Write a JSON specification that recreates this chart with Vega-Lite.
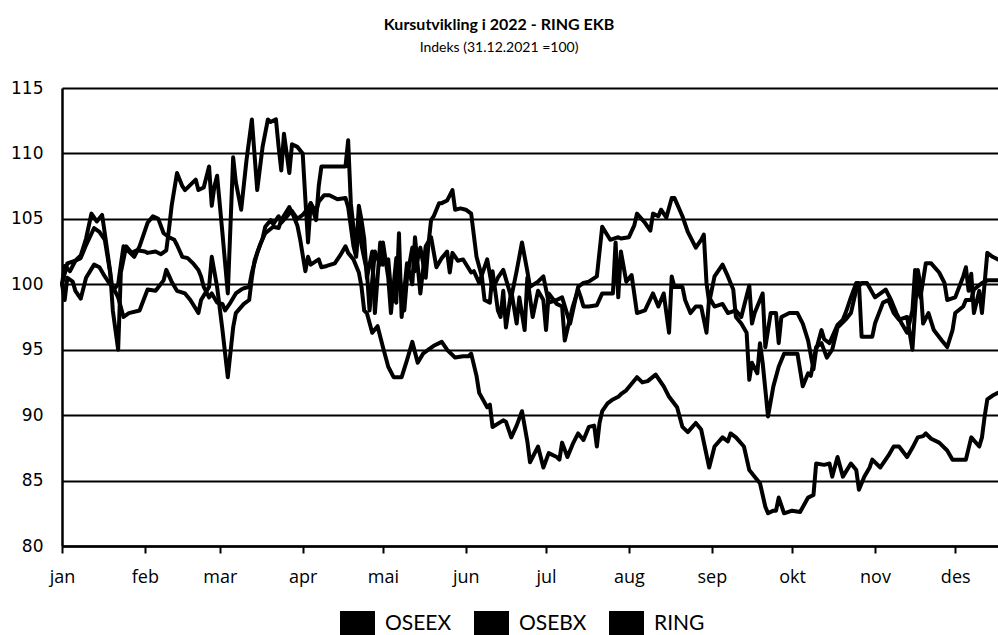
{
"$schema":"https://vega.github.io/schema/vega-lite/v6.json",
"width":936,"height":458,
"autosize":{"type":"none"},
"padding":{"left":62,"top":88,"right":0,"bottom":89},
"background":"white",
"title":{"text":"Kursutvikling i 2022 - RING EKB","subtitle":"Indeks (31.12.2021 =100)","anchor":"middle","dx":-31,"offset":24,"font":"Lato","fontSize":16,"fontWeight":"bold","color":"black","subtitleFont":"Lato","subtitleFontSize":14,"subtitleColor":"black","subtitlePadding":8},
"config":{"view":{"stroke":null}},
"data":{"values":[
{"s":"OSEEX","t":"2022-01-01","v":100},{"s":"OSEEX","t":"2022-01-02","v":101.4},{"s":"OSEEX","t":"2022-01-04","v":101.0},{"s":"OSEEX","t":"2022-01-06","v":101.8},{"s":"OSEEX","t":"2022-01-08","v":102.0},{"s":"OSEEX","t":"2022-01-10","v":103.0},{"s":"OSEEX","t":"2022-01-13","v":104.3},{"s":"OSEEX","t":"2022-01-15","v":104.0},{"s":"OSEEX","t":"2022-01-17","v":103.4},{"s":"OSEEX","t":"2022-01-19","v":100.9},{"s":"OSEEX","t":"2022-01-20","v":99.5},{"s":"OSEEX","t":"2022-01-22","v":100.0},{"s":"OSEEX","t":"2022-01-23","v":101.5},{"s":"OSEEX","t":"2022-01-24","v":102.9},{"s":"OSEEX","t":"2022-01-26","v":102.5},{"s":"OSEEX","t":"2022-01-28","v":102.1},{"s":"OSEEX","t":"2022-01-30","v":102.9},{"s":"OSEEX","t":"2022-02-02","v":104.7},{"s":"OSEEX","t":"2022-02-04","v":105.2},{"s":"OSEEX","t":"2022-02-06","v":105.0},{"s":"OSEEX","t":"2022-02-08","v":103.9},{"s":"OSEEX","t":"2022-02-10","v":103.6},{"s":"OSEEX","t":"2022-02-12","v":103.4},{"s":"OSEEX","t":"2022-02-13","v":103.0},{"s":"OSEEX","t":"2022-02-15","v":102.1},{"s":"OSEEX","t":"2022-02-17","v":102.0},{"s":"OSEEX","t":"2022-02-19","v":101.6},{"s":"OSEEX","t":"2022-02-21","v":101.1},{"s":"OSEEX","t":"2022-02-22","v":100.6},{"s":"OSEEX","t":"2022-02-23","v":99.8},{"s":"OSEEX","t":"2022-02-25","v":99.0},{"s":"OSEEX","t":"2022-02-26","v":99.3},{"s":"OSEEX","t":"2022-02-28","v":98.6},{"s":"OSEEX","t":"2022-03-02","v":98.5},{"s":"OSEEX","t":"2022-03-03","v":98.0},{"s":"OSEEX","t":"2022-03-05","v":98.6},{"s":"OSEEX","t":"2022-03-07","v":99.3},{"s":"OSEEX","t":"2022-03-09","v":99.6},{"s":"OSEEX","t":"2022-03-10","v":99.7},{"s":"OSEEX","t":"2022-03-12","v":99.8},{"s":"OSEEX","t":"2022-03-13","v":100.9},{"s":"OSEEX","t":"2022-03-15","v":102.4},{"s":"OSEEX","t":"2022-03-17","v":103.5},{"s":"OSEEX","t":"2022-03-18","v":104.4},{"s":"OSEEX","t":"2022-03-20","v":104.9},{"s":"OSEEX","t":"2022-03-21","v":104.6},{"s":"OSEEX","t":"2022-03-23","v":105.2},{"s":"OSEEX","t":"2022-03-24","v":104.7},{"s":"OSEEX","t":"2022-03-27","v":105.4},{"s":"OSEEX","t":"2022-03-28","v":105.6},{"s":"OSEEX","t":"2022-03-30","v":105.0},{"s":"OSEEX","t":"2022-04-01","v":105.3},{"s":"OSEEX","t":"2022-04-03","v":105.8},{"s":"OSEEX","t":"2022-04-04","v":106.2},{"s":"OSEEX","t":"2022-04-06","v":105.5},{"s":"OSEEX","t":"2022-04-07","v":106.3},{"s":"OSEEX","t":"2022-04-09","v":106.8},{"s":"OSEEX","t":"2022-04-11","v":106.8},{"s":"OSEEX","t":"2022-04-14","v":106.5},{"s":"OSEEX","t":"2022-04-17","v":106.6},{"s":"OSEEX","t":"2022-04-18","v":105.9},{"s":"OSEEX","t":"2022-04-20","v":102.9},{"s":"OSEEX","t":"2022-04-21","v":102.1},{"s":"OSEEX","t":"2022-04-22","v":104.9},{"s":"OSEEX","t":"2022-04-23","v":103.0},{"s":"OSEEX","t":"2022-04-25","v":101.0},{"s":"OSEEX","t":"2022-04-26","v":98.0},{"s":"OSEEX","t":"2022-04-28","v":102.5},{"s":"OSEEX","t":"2022-04-30","v":101.5},{"s":"OSEEX","t":"2022-05-01","v":103.2},{"s":"OSEEX","t":"2022-05-03","v":100.5},{"s":"OSEEX","t":"2022-05-04","v":97.8},{"s":"OSEEX","t":"2022-05-06","v":102.0},{"s":"OSEEX","t":"2022-05-07","v":101.0},{"s":"OSEEX","t":"2022-05-09","v":98.0},{"s":"OSEEX","t":"2022-05-10","v":100.5},{"s":"OSEEX","t":"2022-05-12","v":102.8},{"s":"OSEEX","t":"2022-05-13","v":101.0},{"s":"OSEEX","t":"2022-05-15","v":102.8},{"s":"OSEEX","t":"2022-05-17","v":100.5},{"s":"OSEEX","t":"2022-05-18","v":103.0},{"s":"OSEEX","t":"2022-05-19","v":104.9},{"s":"OSEEX","t":"2022-05-20","v":105.2},{"s":"OSEEX","t":"2022-05-22","v":106.2},{"s":"OSEEX","t":"2022-05-23","v":106.2},{"s":"OSEEX","t":"2022-05-25","v":106.4},{"s":"OSEEX","t":"2022-05-27","v":107.2},{"s":"OSEEX","t":"2022-05-28","v":105.7},{"s":"OSEEX","t":"2022-05-30","v":105.8},{"s":"OSEEX","t":"2022-06-01","v":105.7},{"s":"OSEEX","t":"2022-06-03","v":105.4},{"s":"OSEEX","t":"2022-06-05","v":102.1},{"s":"OSEEX","t":"2022-06-07","v":100.6},{"s":"OSEEX","t":"2022-06-08","v":98.8},{"s":"OSEEX","t":"2022-06-10","v":98.6},{"s":"OSEEX","t":"2022-06-11","v":101.0},{"s":"OSEEX","t":"2022-06-13","v":98.0},{"s":"OSEEX","t":"2022-06-14","v":97.5},{"s":"OSEEX","t":"2022-06-15","v":99.5},{"s":"OSEEX","t":"2022-06-16","v":96.7},{"s":"OSEEX","t":"2022-06-18","v":99.5},{"s":"OSEEX","t":"2022-06-20","v":97.0},{"s":"OSEEX","t":"2022-06-21","v":99.0},{"s":"OSEEX","t":"2022-06-23","v":96.5},{"s":"OSEEX","t":"2022-06-24","v":100.5},{"s":"OSEEX","t":"2022-06-26","v":97.5},{"s":"OSEEX","t":"2022-06-28","v":99.5},{"s":"OSEEX","t":"2022-06-30","v":98.8},{"s":"OSEEX","t":"2022-07-01","v":96.5},{"s":"OSEEX","t":"2022-07-02","v":99.3},{"s":"OSEEX","t":"2022-07-05","v":98.5},{"s":"OSEEX","t":"2022-07-07","v":98.3},{"s":"OSEEX","t":"2022-07-08","v":95.7},{"s":"OSEEX","t":"2022-07-11","v":98.3},{"s":"OSEEX","t":"2022-07-13","v":99.6},{"s":"OSEEX","t":"2022-07-14","v":99.0},{"s":"OSEEX","t":"2022-07-15","v":98.3},{"s":"OSEEX","t":"2022-07-17","v":98.3},{"s":"OSEEX","t":"2022-07-20","v":98.4},{"s":"OSEEX","t":"2022-07-22","v":99.3},{"s":"OSEEX","t":"2022-07-25","v":99.3},{"s":"OSEEX","t":"2022-07-26","v":99.3},{"s":"OSEEX","t":"2022-07-27","v":103.2},{"s":"OSEEX","t":"2022-07-28","v":99.0},{"s":"OSEEX","t":"2022-07-29","v":102.5},{"s":"OSEEX","t":"2022-07-31","v":100.2},{"s":"OSEEX","t":"2022-08-02","v":100.7},{"s":"OSEEX","t":"2022-08-04","v":97.8},{"s":"OSEEX","t":"2022-08-07","v":98.0},{"s":"OSEEX","t":"2022-08-10","v":99.3},{"s":"OSEEX","t":"2022-08-12","v":98.3},{"s":"OSEEX","t":"2022-08-14","v":99.3},{"s":"OSEEX","t":"2022-08-16","v":96.3},{"s":"OSEEX","t":"2022-08-17","v":100.6},{"s":"OSEEX","t":"2022-08-18","v":99.8},{"s":"OSEEX","t":"2022-08-21","v":99.8},{"s":"OSEEX","t":"2022-08-22","v":98.8},{"s":"OSEEX","t":"2022-08-24","v":97.8},{"s":"OSEEX","t":"2022-08-26","v":98.3},{"s":"OSEEX","t":"2022-08-28","v":98.3},{"s":"OSEEX","t":"2022-08-30","v":96.3},{"s":"OSEEX","t":"2022-08-31","v":99.0},{"s":"OSEEX","t":"2022-09-02","v":98.3},{"s":"OSEEX","t":"2022-09-05","v":98.5},{"s":"OSEEX","t":"2022-09-07","v":97.8},{"s":"OSEEX","t":"2022-09-10","v":98.0},{"s":"OSEEX","t":"2022-09-12","v":97.5},{"s":"OSEEX","t":"2022-09-15","v":99.9},{"s":"OSEEX","t":"2022-09-16","v":97.0},{"s":"OSEEX","t":"2022-09-17","v":97.8},{"s":"OSEEX","t":"2022-09-20","v":99.3},{"s":"OSEEX","t":"2022-09-21","v":95.2},{"s":"OSEEX","t":"2022-09-23","v":97.8},{"s":"OSEEX","t":"2022-09-25","v":97.8},{"s":"OSEEX","t":"2022-09-26","v":95.5},{"s":"OSEEX","t":"2022-09-27","v":97.5},{"s":"OSEEX","t":"2022-09-30","v":97.8},{"s":"OSEEX","t":"2022-10-03","v":97.8},{"s":"OSEEX","t":"2022-10-05","v":97.0},{"s":"OSEEX","t":"2022-10-07","v":95.7},{"s":"OSEEX","t":"2022-10-09","v":93.5},{"s":"OSEEX","t":"2022-10-10","v":95.0},{"s":"OSEEX","t":"2022-10-12","v":96.5},{"s":"OSEEX","t":"2022-10-13","v":95.8},{"s":"OSEEX","t":"2022-10-15","v":95.5},{"s":"OSEEX","t":"2022-10-18","v":96.9},{"s":"OSEEX","t":"2022-10-20","v":97.3},{"s":"OSEEX","t":"2022-10-21","v":97.8},{"s":"OSEEX","t":"2022-10-23","v":99.0},{"s":"OSEEX","t":"2022-10-25","v":100.1},{"s":"OSEEX","t":"2022-10-26","v":100.1},{"s":"OSEEX","t":"2022-10-27","v":96.0},{"s":"OSEEX","t":"2022-10-31","v":96.0},{"s":"OSEEX","t":"2022-11-01","v":97.0},{"s":"OSEEX","t":"2022-11-04","v":98.6},{"s":"OSEEX","t":"2022-11-06","v":98.8},{"s":"OSEEX","t":"2022-11-08","v":97.8},{"s":"OSEEX","t":"2022-11-10","v":97.3},{"s":"OSEEX","t":"2022-11-13","v":97.5},{"s":"OSEEX","t":"2022-11-15","v":95.0},{"s":"OSEEX","t":"2022-11-17","v":101.1},{"s":"OSEEX","t":"2022-11-18","v":100.0},{"s":"OSEEX","t":"2022-11-19","v":97.0},{"s":"OSEEX","t":"2022-11-21","v":97.8},{"s":"OSEEX","t":"2022-11-23","v":96.5},{"s":"OSEEX","t":"2022-11-26","v":95.7},{"s":"OSEEX","t":"2022-11-28","v":95.2},{"s":"OSEEX","t":"2022-11-30","v":96.5},{"s":"OSEEX","t":"2022-12-01","v":97.8},{"s":"OSEEX","t":"2022-12-04","v":98.3},{"s":"OSEEX","t":"2022-12-05","v":98.8},{"s":"OSEEX","t":"2022-12-07","v":98.8},{"s":"OSEEX","t":"2022-12-08","v":99.6},{"s":"OSEEX","t":"2022-12-11","v":100.1},{"s":"OSEEX","t":"2022-12-13","v":100.3},{"s":"OSEEX","t":"2022-12-17","v":100.3},
{"s":"OSEBX","t":"2022-01-01","v":100},{"s":"OSEBX","t":"2022-01-03","v":101.6},{"s":"OSEBX","t":"2022-01-06","v":101.8},{"s":"OSEBX","t":"2022-01-08","v":102.2},{"s":"OSEBX","t":"2022-01-10","v":103.5},{"s":"OSEBX","t":"2022-01-12","v":105.4},{"s":"OSEBX","t":"2022-01-14","v":104.8},{"s":"OSEBX","t":"2022-01-16","v":105.3},{"s":"OSEBX","t":"2022-01-17","v":103.9},{"s":"OSEBX","t":"2022-01-19","v":101.0},{"s":"OSEBX","t":"2022-01-20","v":98.0},{"s":"OSEBX","t":"2022-01-22","v":95.0},{"s":"OSEBX","t":"2022-01-23","v":100.9},{"s":"OSEBX","t":"2022-01-25","v":102.9},{"s":"OSEBX","t":"2022-01-27","v":102.4},{"s":"OSEBX","t":"2022-01-29","v":102.6},{"s":"OSEBX","t":"2022-02-01","v":102.5},{"s":"OSEBX","t":"2022-02-02","v":102.4},{"s":"OSEBX","t":"2022-02-05","v":102.5},{"s":"OSEBX","t":"2022-02-07","v":102.3},{"s":"OSEBX","t":"2022-02-09","v":102.6},{"s":"OSEBX","t":"2022-02-10","v":104.2},{"s":"OSEBX","t":"2022-02-11","v":106.0},{"s":"OSEBX","t":"2022-02-13","v":108.5},{"s":"OSEBX","t":"2022-02-15","v":107.5},{"s":"OSEBX","t":"2022-02-16","v":107.2},{"s":"OSEBX","t":"2022-02-18","v":107.6},{"s":"OSEBX","t":"2022-02-20","v":108.0},{"s":"OSEBX","t":"2022-02-21","v":107.2},{"s":"OSEBX","t":"2022-02-23","v":107.4},{"s":"OSEBX","t":"2022-02-25","v":109.0},{"s":"OSEBX","t":"2022-02-26","v":106.0},{"s":"OSEBX","t":"2022-02-27","v":107.5},{"s":"OSEBX","t":"2022-02-28","v":108.3},{"s":"OSEBX","t":"2022-03-02","v":103.9},{"s":"OSEBX","t":"2022-03-04","v":99.3},{"s":"OSEBX","t":"2022-03-06","v":109.7},{"s":"OSEBX","t":"2022-03-07","v":107.8},{"s":"OSEBX","t":"2022-03-09","v":105.7},{"s":"OSEBX","t":"2022-03-11","v":109.5},{"s":"OSEBX","t":"2022-03-13","v":112.6},{"s":"OSEBX","t":"2022-03-15","v":107.2},{"s":"OSEBX","t":"2022-03-17","v":110.5},{"s":"OSEBX","t":"2022-03-19","v":112.6},{"s":"OSEBX","t":"2022-03-20","v":112.4},{"s":"OSEBX","t":"2022-03-22","v":112.6},{"s":"OSEBX","t":"2022-03-23","v":110.5},{"s":"OSEBX","t":"2022-03-24","v":108.7},{"s":"OSEBX","t":"2022-03-25","v":111.5},{"s":"OSEBX","t":"2022-03-27","v":108.5},{"s":"OSEBX","t":"2022-03-28","v":110.7},{"s":"OSEBX","t":"2022-03-30","v":110.5},{"s":"OSEBX","t":"2022-04-01","v":110.0},{"s":"OSEBX","t":"2022-04-02","v":106.5},{"s":"OSEBX","t":"2022-04-03","v":103.2},{"s":"OSEBX","t":"2022-04-04","v":106.2},{"s":"OSEBX","t":"2022-04-06","v":104.9},{"s":"OSEBX","t":"2022-04-07","v":107.5},{"s":"OSEBX","t":"2022-04-08","v":109.0},{"s":"OSEBX","t":"2022-04-13","v":109.0},{"s":"OSEBX","t":"2022-04-17","v":109.0},{"s":"OSEBX","t":"2022-04-18","v":111.0},{"s":"OSEBX","t":"2022-04-19","v":106.2},{"s":"OSEBX","t":"2022-04-21","v":102.4},{"s":"OSEBX","t":"2022-04-22","v":106.0},{"s":"OSEBX","t":"2022-04-23","v":104.9},{"s":"OSEBX","t":"2022-04-24","v":103.5},{"s":"OSEBX","t":"2022-04-25","v":100.5},{"s":"OSEBX","t":"2022-04-27","v":102.5},{"s":"OSEBX","t":"2022-04-28","v":97.8},{"s":"OSEBX","t":"2022-04-30","v":103.2},{"s":"OSEBX","t":"2022-05-01","v":101.5},{"s":"OSEBX","t":"2022-05-03","v":101.9},{"s":"OSEBX","t":"2022-05-04","v":99.5},{"s":"OSEBX","t":"2022-05-06","v":98.6},{"s":"OSEBX","t":"2022-05-07","v":103.9},{"s":"OSEBX","t":"2022-05-08","v":97.5},{"s":"OSEBX","t":"2022-05-10","v":101.6},{"s":"OSEBX","t":"2022-05-12","v":100.0},{"s":"OSEBX","t":"2022-05-13","v":103.6},{"s":"OSEBX","t":"2022-05-15","v":99.3},{"s":"OSEBX","t":"2022-05-17","v":102.9},{"s":"OSEBX","t":"2022-05-19","v":103.6},{"s":"OSEBX","t":"2022-05-21","v":101.3},{"s":"OSEBX","t":"2022-05-23","v":102.0},{"s":"OSEBX","t":"2022-05-25","v":102.5},{"s":"OSEBX","t":"2022-05-26","v":100.9},{"s":"OSEBX","t":"2022-05-27","v":102.4},{"s":"OSEBX","t":"2022-05-29","v":101.8},{"s":"OSEBX","t":"2022-05-31","v":101.9},{"s":"OSEBX","t":"2022-06-03","v":100.9},{"s":"OSEBX","t":"2022-06-04","v":101.0},{"s":"OSEBX","t":"2022-06-06","v":100.1},{"s":"OSEBX","t":"2022-06-09","v":101.9},{"s":"OSEBX","t":"2022-06-11","v":99.6},{"s":"OSEBX","t":"2022-06-13","v":100.5},{"s":"OSEBX","t":"2022-06-15","v":101.1},{"s":"OSEBX","t":"2022-06-18","v":99.0},{"s":"OSEBX","t":"2022-06-20","v":101.0},{"s":"OSEBX","t":"2022-06-22","v":103.2},{"s":"OSEBX","t":"2022-06-24","v":101.0},{"s":"OSEBX","t":"2022-06-25","v":99.8},{"s":"OSEBX","t":"2022-06-28","v":100.2},{"s":"OSEBX","t":"2022-06-30","v":100.6},{"s":"OSEBX","t":"2022-07-02","v":98.6},{"s":"OSEBX","t":"2022-07-05","v":98.8},{"s":"OSEBX","t":"2022-07-07","v":99.0},{"s":"OSEBX","t":"2022-07-10","v":97.0},{"s":"OSEBX","t":"2022-07-13","v":99.8},{"s":"OSEBX","t":"2022-07-15","v":100.1},{"s":"OSEBX","t":"2022-07-17","v":100.2},{"s":"OSEBX","t":"2022-07-20","v":100.6},{"s":"OSEBX","t":"2022-07-22","v":104.4},{"s":"OSEBX","t":"2022-07-25","v":103.4},{"s":"OSEBX","t":"2022-07-28","v":103.6},{"s":"OSEBX","t":"2022-07-29","v":103.5},{"s":"OSEBX","t":"2022-08-01","v":103.6},{"s":"OSEBX","t":"2022-08-03","v":104.5},{"s":"OSEBX","t":"2022-08-04","v":105.4},{"s":"OSEBX","t":"2022-08-07","v":104.7},{"s":"OSEBX","t":"2022-08-09","v":104.1},{"s":"OSEBX","t":"2022-08-10","v":105.4},{"s":"OSEBX","t":"2022-08-12","v":105.2},{"s":"OSEBX","t":"2022-08-13","v":105.7},{"s":"OSEBX","t":"2022-08-15","v":105.1},{"s":"OSEBX","t":"2022-08-17","v":106.6},{"s":"OSEBX","t":"2022-08-18","v":106.6},{"s":"OSEBX","t":"2022-08-21","v":105.2},{"s":"OSEBX","t":"2022-08-23","v":104.0},{"s":"OSEBX","t":"2022-08-26","v":102.8},{"s":"OSEBX","t":"2022-08-28","v":103.4},{"s":"OSEBX","t":"2022-08-29","v":103.8},{"s":"OSEBX","t":"2022-08-30","v":100.1},{"s":"OSEBX","t":"2022-08-31","v":98.6},{"s":"OSEBX","t":"2022-09-02","v":100.6},{"s":"OSEBX","t":"2022-09-05","v":101.5},{"s":"OSEBX","t":"2022-09-07","v":100.6},{"s":"OSEBX","t":"2022-09-09","v":99.6},{"s":"OSEBX","t":"2022-09-10","v":97.5},{"s":"OSEBX","t":"2022-09-12","v":97.0},{"s":"OSEBX","t":"2022-09-14","v":96.3},{"s":"OSEBX","t":"2022-09-15","v":92.7},{"s":"OSEBX","t":"2022-09-16","v":94.0},{"s":"OSEBX","t":"2022-09-18","v":93.2},{"s":"OSEBX","t":"2022-09-19","v":95.5},{"s":"OSEBX","t":"2022-09-20","v":94.0},{"s":"OSEBX","t":"2022-09-22","v":89.9},{"s":"OSEBX","t":"2022-09-24","v":92.2},{"s":"OSEBX","t":"2022-09-26","v":93.7},{"s":"OSEBX","t":"2022-09-28","v":94.7},{"s":"OSEBX","t":"2022-09-30","v":94.7},{"s":"OSEBX","t":"2022-10-03","v":94.7},{"s":"OSEBX","t":"2022-10-05","v":92.2},{"s":"OSEBX","t":"2022-10-07","v":93.2},{"s":"OSEBX","t":"2022-10-08","v":93.0},{"s":"OSEBX","t":"2022-10-10","v":95.2},{"s":"OSEBX","t":"2022-10-12","v":95.5},{"s":"OSEBX","t":"2022-10-14","v":94.4},{"s":"OSEBX","t":"2022-10-16","v":95.0},{"s":"OSEBX","t":"2022-10-18","v":96.7},{"s":"OSEBX","t":"2022-10-21","v":97.3},{"s":"OSEBX","t":"2022-10-23","v":97.8},{"s":"OSEBX","t":"2022-10-25","v":99.6},{"s":"OSEBX","t":"2022-10-27","v":100.1},{"s":"OSEBX","t":"2022-10-29","v":100.1},{"s":"OSEBX","t":"2022-11-01","v":99.0},{"s":"OSEBX","t":"2022-11-05","v":99.6},{"s":"OSEBX","t":"2022-11-07","v":98.8},{"s":"OSEBX","t":"2022-11-09","v":97.8},{"s":"OSEBX","t":"2022-11-11","v":97.0},{"s":"OSEBX","t":"2022-11-13","v":96.3},{"s":"OSEBX","t":"2022-11-15","v":98.0},{"s":"OSEBX","t":"2022-11-16","v":101.1},{"s":"OSEBX","t":"2022-11-18","v":99.0},{"s":"OSEBX","t":"2022-11-20","v":101.6},{"s":"OSEBX","t":"2022-11-22","v":101.6},{"s":"OSEBX","t":"2022-11-25","v":100.9},{"s":"OSEBX","t":"2022-11-27","v":100.1},{"s":"OSEBX","t":"2022-11-28","v":98.8},{"s":"OSEBX","t":"2022-12-01","v":99.0},{"s":"OSEBX","t":"2022-12-04","v":100.6},{"s":"OSEBX","t":"2022-12-05","v":101.3},{"s":"OSEBX","t":"2022-12-06","v":99.5},{"s":"OSEBX","t":"2022-12-07","v":100.8},{"s":"OSEBX","t":"2022-12-08","v":97.8},{"s":"OSEBX","t":"2022-12-10","v":99.5},{"s":"OSEBX","t":"2022-12-11","v":97.8},{"s":"OSEBX","t":"2022-12-13","v":102.4},{"s":"OSEBX","t":"2022-12-15","v":102.1},{"s":"OSEBX","t":"2022-12-17","v":101.9},
{"s":"RING","t":"2022-01-01","v":100},{"s":"RING","t":"2022-01-02","v":98.8},{"s":"RING","t":"2022-01-03","v":100.5},{"s":"RING","t":"2022-01-05","v":100.2},{"s":"RING","t":"2022-01-06","v":99.5},{"s":"RING","t":"2022-01-08","v":98.9},{"s":"RING","t":"2022-01-10","v":100.5},{"s":"RING","t":"2022-01-13","v":101.5},{"s":"RING","t":"2022-01-15","v":101.3},{"s":"RING","t":"2022-01-17","v":100.6},{"s":"RING","t":"2022-01-19","v":100.0},{"s":"RING","t":"2022-01-20","v":99.8},{"s":"RING","t":"2022-01-22","v":99.0},{"s":"RING","t":"2022-01-24","v":97.5},{"s":"RING","t":"2022-01-26","v":97.8},{"s":"RING","t":"2022-01-30","v":98.0},{"s":"RING","t":"2022-02-02","v":99.6},{"s":"RING","t":"2022-02-05","v":99.5},{"s":"RING","t":"2022-02-08","v":100.3},{"s":"RING","t":"2022-02-09","v":101.1},{"s":"RING","t":"2022-02-11","v":100.2},{"s":"RING","t":"2022-02-13","v":99.5},{"s":"RING","t":"2022-02-16","v":99.3},{"s":"RING","t":"2022-02-18","v":98.8},{"s":"RING","t":"2022-02-21","v":97.8},{"s":"RING","t":"2022-02-22","v":98.8},{"s":"RING","t":"2022-02-25","v":99.8},{"s":"RING","t":"2022-02-26","v":102.1},{"s":"RING","t":"2022-02-28","v":99.8},{"s":"RING","t":"2022-03-02","v":96.5},{"s":"RING","t":"2022-03-04","v":92.9},{"s":"RING","t":"2022-03-06","v":96.7},{"s":"RING","t":"2022-03-07","v":97.8},{"s":"RING","t":"2022-03-10","v":98.5},{"s":"RING","t":"2022-03-12","v":98.8},{"s":"RING","t":"2022-03-13","v":100.5},{"s":"RING","t":"2022-03-14","v":101.8},{"s":"RING","t":"2022-03-16","v":103.0},{"s":"RING","t":"2022-03-18","v":103.9},{"s":"RING","t":"2022-03-21","v":104.4},{"s":"RING","t":"2022-03-23","v":104.3},{"s":"RING","t":"2022-03-24","v":104.9},{"s":"RING","t":"2022-03-27","v":105.9},{"s":"RING","t":"2022-03-28","v":105.5},{"s":"RING","t":"2022-03-30","v":104.5},{"s":"RING","t":"2022-03-31","v":103.5},{"s":"RING","t":"2022-04-02","v":101.0},{"s":"RING","t":"2022-04-03","v":102.1},{"s":"RING","t":"2022-04-04","v":101.5},{"s":"RING","t":"2022-04-07","v":101.9},{"s":"RING","t":"2022-04-08","v":101.3},{"s":"RING","t":"2022-04-10","v":101.4},{"s":"RING","t":"2022-04-13","v":101.6},{"s":"RING","t":"2022-04-15","v":102.2},{"s":"RING","t":"2022-04-17","v":102.9},{"s":"RING","t":"2022-04-18","v":102.4},{"s":"RING","t":"2022-04-20","v":101.9},{"s":"RING","t":"2022-04-22","v":100.9},{"s":"RING","t":"2022-04-23","v":99.8},{"s":"RING","t":"2022-04-24","v":98.0},{"s":"RING","t":"2022-04-25","v":97.8},{"s":"RING","t":"2022-04-27","v":96.3},{"s":"RING","t":"2022-04-29","v":96.8},{"s":"RING","t":"2022-05-01","v":95.2},{"s":"RING","t":"2022-05-03","v":93.7},{"s":"RING","t":"2022-05-05","v":92.9},{"s":"RING","t":"2022-05-08","v":92.9},{"s":"RING","t":"2022-05-10","v":94.2},{"s":"RING","t":"2022-05-12","v":95.6},{"s":"RING","t":"2022-05-14","v":94.0},{"s":"RING","t":"2022-05-16","v":94.7},{"s":"RING","t":"2022-05-18","v":95.0},{"s":"RING","t":"2022-05-20","v":95.3},{"s":"RING","t":"2022-05-23","v":95.6},{"s":"RING","t":"2022-05-25","v":95.0},{"s":"RING","t":"2022-05-28","v":94.4},{"s":"RING","t":"2022-05-31","v":94.5},{"s":"RING","t":"2022-06-02","v":94.5},{"s":"RING","t":"2022-06-03","v":94.7},{"s":"RING","t":"2022-06-05","v":93.0},{"s":"RING","t":"2022-06-06","v":91.7},{"s":"RING","t":"2022-06-09","v":90.6},{"s":"RING","t":"2022-06-10","v":90.8},{"s":"RING","t":"2022-06-11","v":89.1},{"s":"RING","t":"2022-06-15","v":89.6},{"s":"RING","t":"2022-06-16","v":89.5},{"s":"RING","t":"2022-06-18","v":88.3},{"s":"RING","t":"2022-06-20","v":89.2},{"s":"RING","t":"2022-06-22","v":90.3},{"s":"RING","t":"2022-06-24","v":88.0},{"s":"RING","t":"2022-06-25","v":86.4},{"s":"RING","t":"2022-06-28","v":87.6},{"s":"RING","t":"2022-06-30","v":86.0},{"s":"RING","t":"2022-07-02","v":87.1},{"s":"RING","t":"2022-07-05","v":86.8},{"s":"RING","t":"2022-07-06","v":86.6},{"s":"RING","t":"2022-07-07","v":87.9},{"s":"RING","t":"2022-07-09","v":86.8},{"s":"RING","t":"2022-07-11","v":87.8},{"s":"RING","t":"2022-07-13","v":88.6},{"s":"RING","t":"2022-07-15","v":88.1},{"s":"RING","t":"2022-07-17","v":89.1},{"s":"RING","t":"2022-07-19","v":89.2},{"s":"RING","t":"2022-07-20","v":87.6},{"s":"RING","t":"2022-07-21","v":89.4},{"s":"RING","t":"2022-07-22","v":90.3},{"s":"RING","t":"2022-07-24","v":90.9},{"s":"RING","t":"2022-07-26","v":91.2},{"s":"RING","t":"2022-07-28","v":91.4},{"s":"RING","t":"2022-07-29","v":91.6},{"s":"RING","t":"2022-07-31","v":91.9},{"s":"RING","t":"2022-08-02","v":92.4},{"s":"RING","t":"2022-08-04","v":92.9},{"s":"RING","t":"2022-08-06","v":92.5},{"s":"RING","t":"2022-08-08","v":92.6},{"s":"RING","t":"2022-08-11","v":93.1},{"s":"RING","t":"2022-08-14","v":92.2},{"s":"RING","t":"2022-08-16","v":91.4},{"s":"RING","t":"2022-08-19","v":90.6},{"s":"RING","t":"2022-08-21","v":89.1},{"s":"RING","t":"2022-08-23","v":88.7},{"s":"RING","t":"2022-08-26","v":89.4},{"s":"RING","t":"2022-08-28","v":88.9},{"s":"RING","t":"2022-08-31","v":86.0},{"s":"RING","t":"2022-09-02","v":87.6},{"s":"RING","t":"2022-09-05","v":88.3},{"s":"RING","t":"2022-09-07","v":88.0},{"s":"RING","t":"2022-09-08","v":88.6},{"s":"RING","t":"2022-09-10","v":88.3},{"s":"RING","t":"2022-09-13","v":87.6},{"s":"RING","t":"2022-09-15","v":85.8},{"s":"RING","t":"2022-09-17","v":85.3},{"s":"RING","t":"2022-09-19","v":84.8},{"s":"RING","t":"2022-09-21","v":83.0},{"s":"RING","t":"2022-09-22","v":82.5},{"s":"RING","t":"2022-09-24","v":82.7},{"s":"RING","t":"2022-09-25","v":82.7},{"s":"RING","t":"2022-09-26","v":83.7},{"s":"RING","t":"2022-09-28","v":82.5},{"s":"RING","t":"2022-10-01","v":82.7},{"s":"RING","t":"2022-10-04","v":82.6},{"s":"RING","t":"2022-10-07","v":83.7},{"s":"RING","t":"2022-10-09","v":83.9},{"s":"RING","t":"2022-10-10","v":86.3},{"s":"RING","t":"2022-10-13","v":86.2},{"s":"RING","t":"2022-10-15","v":86.3},{"s":"RING","t":"2022-10-16","v":85.3},{"s":"RING","t":"2022-10-18","v":86.8},{"s":"RING","t":"2022-10-20","v":85.3},{"s":"RING","t":"2022-10-23","v":86.3},{"s":"RING","t":"2022-10-25","v":85.8},{"s":"RING","t":"2022-10-26","v":84.3},{"s":"RING","t":"2022-10-28","v":85.3},{"s":"RING","t":"2022-10-30","v":86.0},{"s":"RING","t":"2022-10-31","v":86.6},{"s":"RING","t":"2022-11-03","v":86.0},{"s":"RING","t":"2022-11-06","v":86.9},{"s":"RING","t":"2022-11-08","v":87.6},{"s":"RING","t":"2022-11-10","v":87.6},{"s":"RING","t":"2022-11-13","v":86.8},{"s":"RING","t":"2022-11-15","v":87.5},{"s":"RING","t":"2022-11-17","v":88.3},{"s":"RING","t":"2022-11-19","v":88.4},{"s":"RING","t":"2022-11-20","v":88.6},{"s":"RING","t":"2022-11-22","v":88.2},{"s":"RING","t":"2022-11-25","v":87.9},{"s":"RING","t":"2022-11-28","v":87.3},{"s":"RING","t":"2022-11-30","v":86.6},{"s":"RING","t":"2022-12-02","v":86.6},{"s":"RING","t":"2022-12-05","v":86.6},{"s":"RING","t":"2022-12-07","v":88.3},{"s":"RING","t":"2022-12-10","v":87.6},{"s":"RING","t":"2022-12-11","v":88.3},{"s":"RING","t":"2022-12-12","v":89.9},{"s":"RING","t":"2022-12-13","v":91.2},{"s":"RING","t":"2022-12-15","v":91.5},{"s":"RING","t":"2022-12-17","v":91.7}
]},
"mark":{"type":"line","strokeWidth":4,"strokeJoin":"round","strokeCap":"round"},
"encoding":{
"x":{"field":"t","type":"temporal","scale":{"type":"utc","domain":[{"year":2022,"month":1,"date":1,"utc":true},{"year":2022,"month":12,"date":17,"utc":true}]},
 "axis":{"title":null,"grid":false,"domainColor":"black","domainWidth":2.5,"tickColor":"black","tickWidth":2,"tickSize":7,"labelFont":"Open Sans","labelFontSize":18,"labelColor":"black","labelPadding":15,"labelFlush":false,"labelOverlap":false,
 "values":[{"year":2022,"month":1,"date":1,"utc":true},{"year":2022,"month":2,"date":1,"utc":true},{"year":2022,"month":3,"date":1,"utc":true},{"year":2022,"month":4,"date":1,"utc":true},{"year":2022,"month":5,"date":1,"utc":true},{"year":2022,"month":6,"date":1,"utc":true},{"year":2022,"month":7,"date":1,"utc":true},{"year":2022,"month":8,"date":1,"utc":true},{"year":2022,"month":9,"date":1,"utc":true},{"year":2022,"month":10,"date":1,"utc":true},{"year":2022,"month":11,"date":1,"utc":true},{"year":2022,"month":12,"date":1,"utc":true}],
 "labelExpr":"['jan','feb','mar','apr','mai','jun','jul','aug','sep','okt','nov','des'][utcmonth(datum.value)]"}},
"y":{"field":"v","type":"quantitative","scale":{"domain":[80,115],"nice":false,"zero":false},
 "axis":{"title":null,"values":[80,85,90,95,100,105,110,115],"grid":true,"gridColor":"black","gridWidth":1.8,"gridOpacity":1,"ticks":false,"domainColor":"black","domainWidth":2.5,"labelFont":"DejaVu Sans","labelFontSize":17,"labelColor":"black","labelPadding":19}},
"color":{"field":"s","type":"nominal","scale":{"domain":["OSEEX","OSEBX","RING"],"range":["black","black","black"]},
 "legend":{"title":null,"orient":"none","legendX":278,"legendY":518,"direction":"horizontal","symbolType":"M-1,-0.714H1V0.714H-1Z","symbolSize":1225,"symbolFillColor":"black","symbolStrokeColor":"black","symbolStrokeWidth":0,"symbolOpacity":1,"labelFont":"Lato","labelFontSize":21,"labelColor":"black","labelOffset":10,"columnPadding":22,"padding":0,
 "encode":{"symbols":{"update":{"fill":{"value":"black"},"stroke":{"value":"black"},"strokeWidth":{"value":0},"opacity":{"value":1}}}}}}
}
}
